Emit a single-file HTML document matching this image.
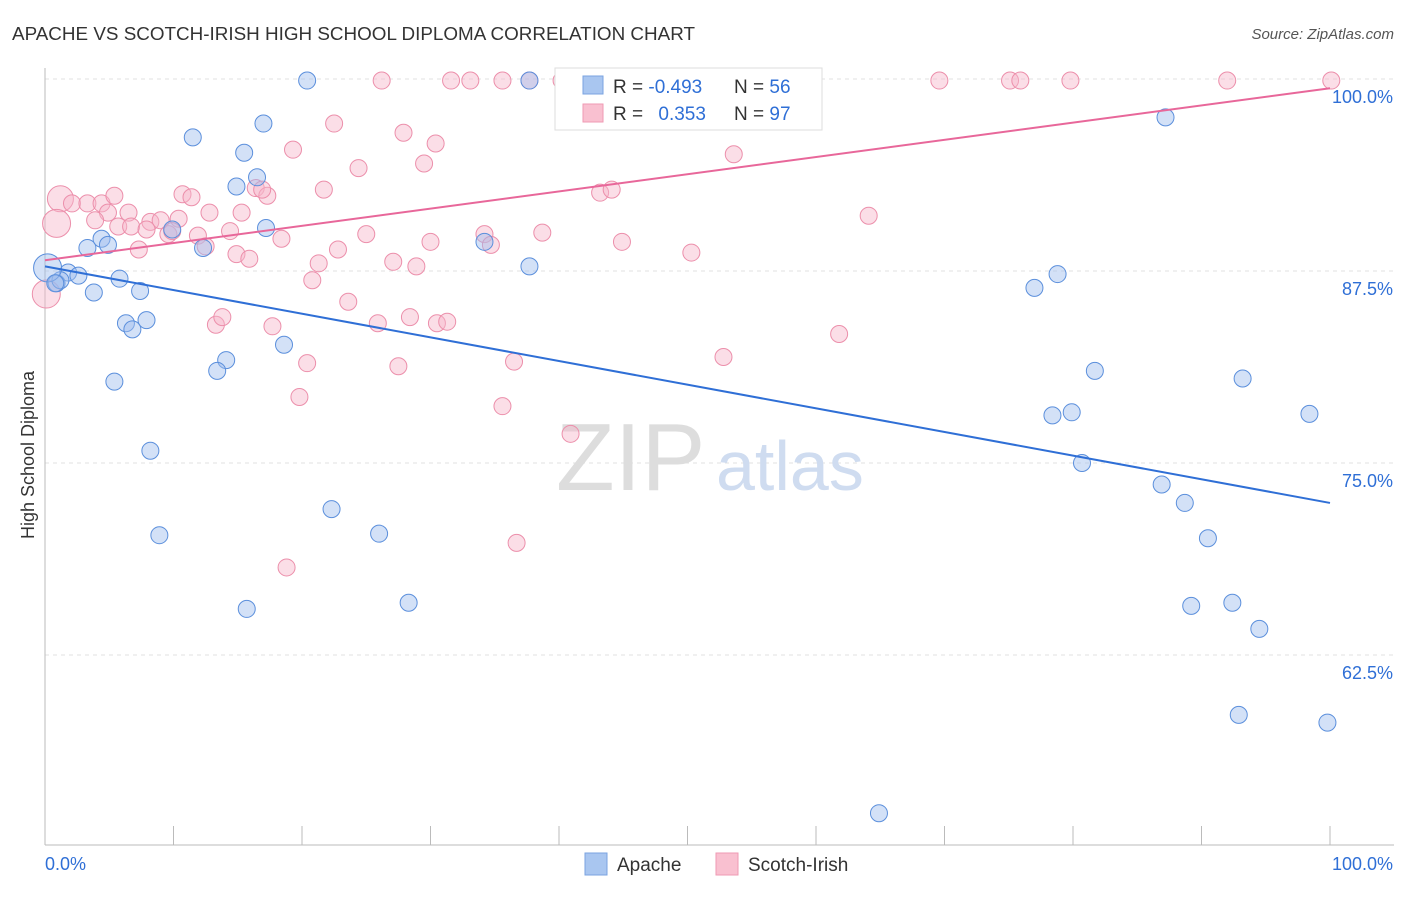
<!DOCTYPE html>
<html><head><meta charset="utf-8"><style>
body{margin:0;background:#fff;font-family:"Liberation Sans",sans-serif;}
svg text{font-family:"Liberation Sans",sans-serif;}
</style></head><body>
<svg width="1406" height="892">
<text x="12" y="40" font-size="18" fill="#333" textLength="683" lengthAdjust="spacingAndGlyphs">APACHE VS SCOTCH-IRISH HIGH SCHOOL DIPLOMA CORRELATION CHART</text>
<text x="1394" y="39" font-size="15" fill="#555" font-style="italic" text-anchor="end">Source: ZipAtlas.com</text>
<g id="grid"></g>
<text x="556" y="490" font-size="96" fill="#ddd" font-family="Liberation Serif">ZIP</text>
<text x="716" y="490" font-size="70" fill="#cfdcf0">atlas</text>
<text transform="translate(34,455) rotate(-90)" font-size="18" fill="#333" text-anchor="middle">High School Diploma</text>
<g id="marks"></g>
<g>
<rect x="555" y="68" width="267" height="62" fill="#fff" stroke="#ddd"/>
<rect x="583" y="76" width="20" height="18" fill="#a9c6f0" stroke="#7aa3e0"/>
<rect x="583" y="104" width="20" height="18" fill="#f9c0d0" stroke="#ef9ab3"/>
<text x="613" y="93" font-size="19" fill="#333">R = <tspan fill="#2f6fd6">-0.493</tspan></text>
<text x="734" y="93" font-size="19" fill="#333">N = <tspan fill="#2f6fd6">56</tspan></text>
<text x="613" y="120" font-size="19" fill="#333">R = <tspan fill="#2f6fd6" dx="10">0.353</tspan></text>
<text x="734" y="120" font-size="19" fill="#333">N = <tspan fill="#2f6fd6">97</tspan></text>
</g>
<g>
<rect x="585" y="853" width="22" height="22" fill="#a9c6f0" stroke="#7aa3e0"/>
<text x="617" y="871" font-size="19" fill="#333">Apache</text>
<rect x="716" y="853" width="22" height="22" fill="#f9c0d0" stroke="#ef9ab3"/>
<text x="748" y="871" font-size="19" fill="#333">Scotch-Irish</text>
</g>
<text x="45" y="870" font-size="18" fill="#2f6fd6">0.0%</text>
<text x="1393" y="870" font-size="18" fill="#2f6fd6" text-anchor="end">100.0%</text>
</svg>
<script>
const yTicks=[100,87.5,75,62.5];
const yTickLabels=["100.0%","87.5%","75.0%","62.5%"];
const apacheX=[20.4,11.5,17.0,15.5,14.9,16.5,17.2,9.9,12.3,3.3,4.4,4.9,1.8,2.6,0.9,1.2,5.8,3.8,7.4,6.3,6.8,7.9,18.6,14.1,13.4,5.4,8.2,8.9,22.3,26.0,15.7,28.3,34.2,37.7,37.7,87.2,77.0,78.8,81.7,78.4,79.9,93.2,98.4,80.7,86.9,88.7,90.5,89.2,92.4,94.5,92.9,99.8,64.9,0.2,0.8];
const apacheY=[99.9,96.2,97.1,95.2,93.0,93.6,90.3,90.2,89.0,89.0,89.6,89.2,87.4,87.2,86.7,86.9,87.0,86.1,86.2,84.1,83.7,84.3,82.7,81.7,81.0,80.3,75.8,70.3,72.0,70.4,65.5,65.9,89.4,87.8,99.9,97.5,86.4,87.3,81.0,78.1,78.3,80.5,78.2,75.0,73.6,72.4,70.1,65.7,65.9,64.2,58.6,58.1,52.2,87.7,86.7];
const irishX=[26.2,31.6,33.1,35.6,37.7,40.2,45.7,49.3,51.0,56.1,69.6,75.1,75.9,79.8,92.0,100.1,22.5,27.9,30.4,19.3,24.4,29.5,53.6,1.2,2.1,3.3,4.4,5.4,6.5,4.9,3.9,5.7,6.7,8.2,9.0,10.4,10.7,11.4,12.8,15.3,16.4,17.3,16.9,21.7,43.2,44.1,64.1,0.9,7.9,9.6,11.9,14.4,18.4,25.0,30.0,34.2,34.7,38.7,44.9,50.3,7.3,12.5,14.9,15.9,21.3,22.8,27.1,28.9,20.8,23.6,13.3,13.8,17.7,25.9,28.4,30.5,31.3,20.4,27.5,36.5,52.8,61.8,19.8,35.6,40.9,36.7,18.8,0.1,9.9];
const irishY=[99.9,99.9,99.9,99.9,99.9,99.9,99.9,99.9,99.9,99.9,99.9,99.9,99.9,99.9,99.9,99.9,97.1,96.5,95.8,95.4,94.2,94.5,95.1,92.2,91.9,91.9,91.9,92.4,91.3,91.3,90.8,90.4,90.4,90.7,90.8,90.9,92.5,92.3,91.3,91.3,92.9,92.4,92.8,92.8,92.6,92.8,91.1,90.6,90.2,89.9,89.8,90.1,89.6,89.9,89.4,89.9,89.2,90.0,89.4,88.7,88.9,89.1,88.6,88.3,88.0,88.9,88.1,87.8,86.9,85.5,84.0,84.5,83.9,84.1,84.5,84.1,84.2,81.5,81.3,81.6,81.9,83.4,79.3,78.7,76.9,69.8,68.2,86.0,90.1];
const bubbleR={apache:{53:14},irish:{23:13,47:14,87:14}};
const blueLine=[0,87.8,100,72.4];
const pinkLine=[0,88.2,100,99.4];
const X=v=>45+v*12.85, Y=v=>79+(100-v)*15.36;
const NS="http://www.w3.org/2000/svg";
const grid=document.getElementById('grid'), marks=document.getElementById('marks');
function el(t,a,p){const e=document.createElementNS(NS,t);for(const k in a)e.setAttribute(k,a[k]);p.appendChild(e);return e;}
yTicks.forEach((t,i)=>{
 const g=el('line',{x1:45,x2:1394,y1:Y(t),y2:Y(t),stroke:'#e2e2e2','stroke-dasharray':'4,4'},grid);
 
 
 const l=el('text',{x:1393,y:Y(t)+24,'font-size':18,fill:'#2f6fd6','text-anchor':'end'},grid);
 l.textContent=yTickLabels[i];
 
 
});
el('line',{x1:45,x2:45,y1:68,y2:845,stroke:'#bbb'},grid);
el('line',{x1:45,x2:1394,y1:845,y2:845,stroke:'#bbb'},grid);
for(let i=0;i<=10;i++){const t=el('line',{x1:X(i*10),x2:X(i*10),y1:826,y2:845,stroke:'#bbb'},grid);
 
 }
function pts(xs,ys,fill,stroke,big,name){xs.forEach((x,i)=>{
 const c=el('circle',{cx:X(x),cy:Y(ys[i]),r:big[i]||8.5,fill:fill,'fill-opacity':0.45,stroke:stroke,'stroke-width':1},marks);
 
 });}
pts(irishX,irishY,'#f7b6c9','#ec8fab',bubbleR.irish,'scotch-irish-point');
pts(apacheX,apacheY,'#9dbdee','#5b8fdc',bubbleR.apache,'apache-point');
const bl=el('line',{x1:X(blueLine[0]),y1:Y(blueLine[1]),x2:X(blueLine[2]),y2:Y(blueLine[3]),stroke:'#2f6fd6','stroke-width':2},marks);


const pl=el('line',{x1:X(pinkLine[0]),y1:Y(pinkLine[1]),x2:X(pinkLine[2]),y2:Y(pinkLine[3]),stroke:'#e8679a','stroke-width':2},marks);


</script>
</body></html>
